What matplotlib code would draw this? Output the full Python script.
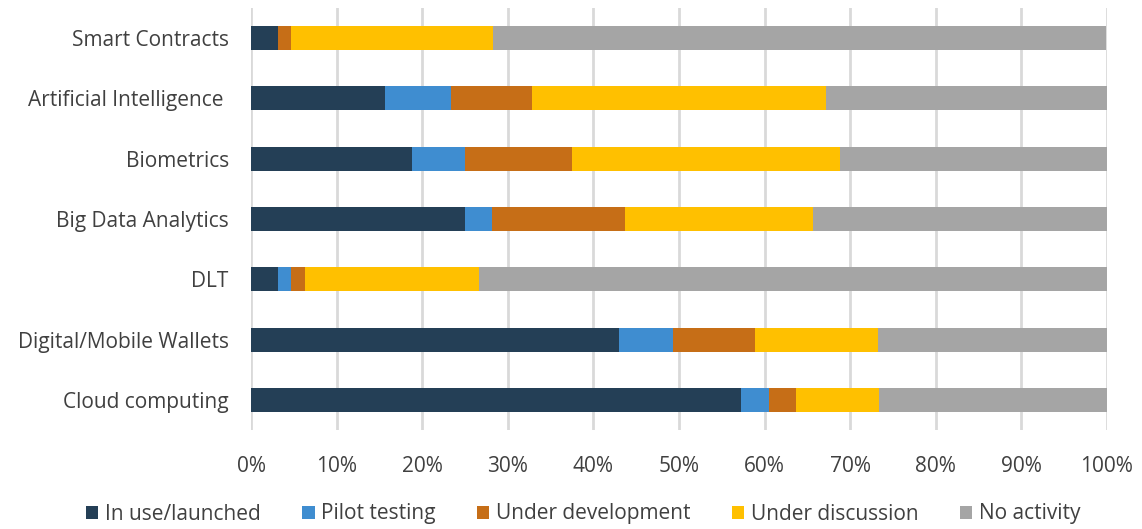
import numpy as np
import matplotlib.pyplot as plt
from matplotlib.ticker import PercentFormatter

plt.rcParams['font.family'] = ['Open Sans', 'DejaVu Sans']

categories = ['Cloud computing', 'Digital/Mobile Wallets', 'DLT', 'Big Data Analytics',
              'Biometrics', 'Artificial Intelligence ', 'Smart Contracts']
series = ['In use/launched', 'Pilot testing', 'Under development',
          'Under discussion', 'No activity']

in_use = [57.3, 43.0, 3.1, 25.0, 18.8, 15.6, 3.1]
pilot = [3.2, 6.3, 1.6, 3.1, 6.2, 7.8, 0.0]
under_dev = [3.2, 9.6, 1.6, 15.6, 12.5, 9.4, 1.6]
discussion = [9.7, 14.3, 20.3, 21.9, 31.3, 34.4, 23.6]
no_activity = [26.6, 26.8, 73.4, 34.4, 31.2, 32.8, 71.6]

colors = ['#243F56', '#3F8DD0', '#C66E17', '#FFC000', '#A5A5A5']

fig = plt.figure(figsize=(11.42, 5.29), dpi=100)
ax = fig.add_axes([251 / 1142, 99 / 529, 856 / 1142, 422 / 529])

y = np.arange(len(categories))
left = np.zeros(len(categories))
for name, vals, c in zip(series, [in_use, pilot, under_dev, discussion, no_activity], colors):
    ax.barh(y, vals, left=left, height=0.4, color=c, label=name)
    left += np.array(vals)

ax.set_xlim(0, 100)
ax.set_ylim(-0.5, len(categories) - 0.5)
ax.set_xticks(np.arange(0, 101, 10))
ax.xaxis.set_major_formatter(PercentFormatter(decimals=0))
ax.set_yticks(y)
ax.set_yticklabels(categories)
ax.grid(axis='x', color='#D9D9D9', linewidth=2)
ax.set_axisbelow(True)
for s in ax.spines.values():
    s.set_visible(False)
ax.tick_params(length=0, labelsize=15, colors='#404040')
ax.tick_params(axis='y', pad=16)
ax.tick_params(axis='x', pad=19)

fig.legend(loc='center', bbox_to_anchor=(583 / 1142, 1 - 514 / 529), ncol=5, frameon=False,
           fontsize=15, handlelength=0.6, handleheight=0.6, handletextpad=0.3,
           columnspacing=2.0, labelcolor='#404040')

fig.savefig('out.png')
